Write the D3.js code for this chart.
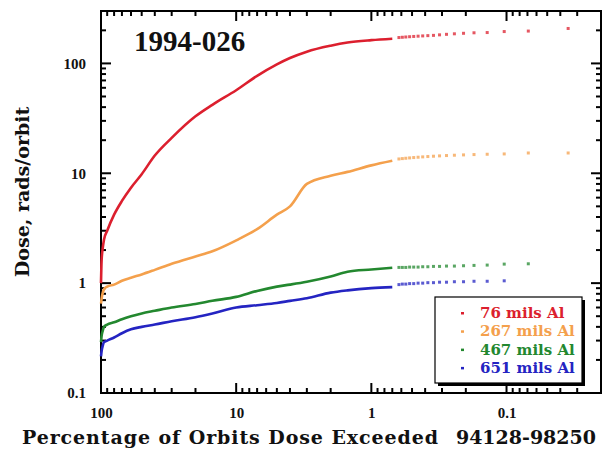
<!DOCTYPE html>
<html>
<head>
<meta charset="utf-8">
<script src="https://cdn.jsdelivr.net/npm/d3@7"></script>
<style>
body { margin: 0; background: #fff; }
</style>
</head>
<body>
<script>
// percentage of orbits (x) for the continuous part of each curve
var linePct = [100, 99, 97, 95, 90, 80, 70, 60, 50, 40, 30, 20, 15, 10, 7, 5, 4, 3, 2, 1.5, 1, 0.7];
var redDose = [1.0, 1.6, 2.1, 2.5, 3.0, 4.2, 5.6, 7.4, 9.8, 14.5, 21, 33, 42, 57, 77, 98, 112, 128, 145, 155, 163, 168];
var orangeDose = [0.65, 0.72, 0.82, 0.88, 0.93, 0.97, 1.05, 1.12, 1.2, 1.32, 1.5, 1.75, 1.95, 2.45, 3.1, 4.2, 5.0, 8.0, 9.5, 10.3, 11.8, 13.0];
var greenDose = [0.29, 0.33, 0.37, 0.40, 0.42, 0.44, 0.47, 0.5, 0.53, 0.56, 0.6, 0.645, 0.69, 0.75, 0.85, 0.93, 0.97, 1.03, 1.15, 1.27, 1.33, 1.38];
var blueDose = [0.215, 0.24, 0.27, 0.29, 0.30, 0.32, 0.35, 0.38, 0.40, 0.42, 0.45, 0.49, 0.53, 0.6, 0.63, 0.66, 0.69, 0.73, 0.82, 0.86, 0.9, 0.92];

// individual highest-dose orbits, drawn as dots
var tailPct = [0.035, 0.069, 0.104, 0.139, 0.174, 0.208, 0.243, 0.278, 0.313, 0.347, 0.382, 0.417, 0.451, 0.486, 0.521, 0.556, 0.590, 0.625];
var redTail = [208, 197, 195, 191, 190, 188, 186, 184, 182, 180, 179, 178, 177, 176, 175, 174, 173, 172];
var orangeTail = [15.3, 15.3, 15.0, 14.9, 14.8, 14.7, 14.6, 14.5, 14.4, 14.3, 14.2, 14.1, 14.0, 13.9, 13.8, 13.7, 13.6, 13.5];
var greenTail = [null, 1.50, 1.49, 1.46, 1.45, 1.44, 1.43, 1.43, 1.42, 1.42, 1.41, 1.41, 1.40, 1.40, 1.40, 1.39, 1.39, 1.39];
var blueTail = [null, null, 1.05, 1.04, 1.04, 1.03, 1.03, 1.02, 1.02, 1.01, 1.01, 1.00, 1.00, 0.99, 0.99, 0.98, 0.98, 0.97];

var seriesNames = ["76 mils Al", "267 mils Al", "467 mils Al", "651 mils Al"];
var colors = ["#dc1f2e", "#f4a04c", "#23882f", "#2424c2"];

var xTickValues = [100, 10, 1, 0.1];
var yTickValues = [0.1, 1, 10, 100];

var series = [
	{name: seriesNames[0], line: redDose, tail: redTail, color: colors[0]},
	{name: seriesNames[1], line: orangeDose, tail: orangeTail, color: colors[1]},
	{name: seriesNames[2], line: greenDose, tail: greenTail, color: colors[2]},
	{name: seriesNames[3], line: blueDose, tail: blueTail, color: colors[3]}
];

var svg = d3.select("body").append("svg").attr("width", 608).attr("height", 453);
var plot = {left: 101, right: 601, top: 11, bottom: 393};

var xScale = d3.scaleLog().domain([100, 0.02]).range([plot.left, plot.right]);
var yScale = d3.scaleLog().domain([0.1, 300]).range([plot.bottom, plot.top]);

var xMinor = xScale.ticks().filter(function(d){ return xTickValues.indexOf(d) < 0; });
var yMinor = yScale.ticks().filter(function(d){ return yTickValues.indexOf(d) < 0; });

// frame
svg.append("rect").attr("x", plot.left).attr("y", plot.top).attr("width", 500).attr("height", 382)
.attr("fill", "none").attr("stroke", "#000").attr("stroke-width", 2);

// inward ticks on all four sides
var xTicks = xTickValues.map(function(v){ return {v: v, len: 10}; })
.concat(xMinor.map(function(v){ return {v: v, len: 5}; }));
var yTicks = yTickValues.map(function(v){ return {v: v, len: 10}; })
.concat(yMinor.map(function(v){ return {v: v, len: 5}; }));

var tickG = svg.append("g").attr("stroke", "#000").attr("stroke-width", 2);
[plot.bottom, plot.top].forEach(function(y0){
	var dir = y0 == plot.bottom ? -1 : 1;
	tickG.selectAll(null).data(xTicks).enter().append("line")
	.attr("x1", function(d){ return xScale(d.v); })
	.attr("x2", function(d){ return xScale(d.v); })
	.attr("y1", y0)
	.attr("y2", function(d){ return y0 + dir * d.len; });
});
[plot.left, plot.right].forEach(function(x0){
	var dir = x0 == plot.left ? 1 : -1;
	tickG.selectAll(null).data(yTicks).enter().append("line")
	.attr("y1", function(d){ return yScale(d.v); })
	.attr("y2", function(d){ return yScale(d.v); })
	.attr("x1", x0)
	.attr("x2", function(d){ return x0 + dir * d.len; });
});

// curves
var linePath = d3.line()
.x(function(d){ return xScale(d[0]); })
.y(function(d){ return yScale(d[1]); })
.curve(d3.curveMonotoneX);

svg.selectAll("path.curve")
.data(series)
.enter()
.append("path")
.attr("class", "curve")
.attr("d", function(s){
	return linePath(linePct.map(function(p, i){ return [p, s.line[i]]; }));
})
.attr("fill", "none")
.attr("stroke", function(s){ return s.color; })
.attr("stroke-width", 2.6);

series.forEach(function(s){
	var pts = tailPct.map(function(p, i){ return [p, s.tail[i]]; })
	.filter(function(d){ return d[1] != null; });
	svg.selectAll(null)
	.data(pts)
	.enter()
	.append("rect")
	.attr("x", function(d){ return xScale(d[0]) - 1.5; })
	.attr("y", function(d){ return yScale(d[1]) - 1.5; })
	.attr("width", 3)
	.attr("height", 3)
	.attr("fill", s.color)
	.attr("opacity", 0.75);
});

// tick labels from d3 axes
function styleLabels(g) {
	g.select(".domain").remove();
	g.selectAll("line").remove();
	g.selectAll("text")
	.attr("font-family", "Liberation Serif, serif")
	.attr("font-weight", "bold")
	.attr("font-size", 15)
	.attr("fill", "#111");
}

svg.append("g")
.attr("transform", "translate(0," + plot.bottom + ")")
.call(d3.axisBottom(xScale).tickValues(xTickValues).tickSize(0).tickPadding(14)
	.tickFormat(function(d){ return d; }))
.call(styleLabels);

svg.append("g")
.attr("transform", "translate(" + plot.left + ",0)")
.call(d3.axisLeft(yScale).tickValues(yTickValues).tickSize(0).tickPadding(15)
	.tickFormat(function(d){ return d; }))
.call(styleLabels);

// title inside plot
svg.append("text")
.attr("x", 134)
.attr("y", 51)
.attr("font-family", "Liberation Serif, serif")
.attr("font-weight", "bold")
.attr("font-size", 29)
.attr("fill", "#111")
.text("1994-026");

// axis titles
svg.append("text")
.attr("transform", "translate(29,192) rotate(-90)")
.attr("text-anchor", "middle")
.attr("font-family", "DejaVu Serif, serif")
.attr("font-weight", "bold")
.attr("font-size", 19)
.attr("fill", "#111")
.text("Dose, rads/orbit");

svg.append("text")
.attr("x", 22)
.attr("y", 444)
.attr("textLength", 416)
.attr("lengthAdjust", "spacing")
.attr("font-family", "DejaVu Serif, serif")
.attr("font-weight", "bold")
.attr("font-size", 19)
.attr("fill", "#111")
.text("Percentage of Orbits Dose Exceeded");

svg.append("text")
.attr("x", 596)
.attr("y", 444)
.attr("text-anchor", "end")
.attr("font-family", "DejaVu Serif, serif")
.attr("font-weight", "bold")
.attr("font-size", 19)
.attr("fill", "#111")
.text("94128-98250");

// legend
var legend = {x: 435, y: 297, w: 147, h: 86};

svg.append("rect")
.attr("x", legend.x + 3)
.attr("y", legend.y + 3)
.attr("width", legend.w)
.attr("height", legend.h)
.attr("fill", "#000");

svg.append("rect")
.attr("x", legend.x)
.attr("y", legend.y)
.attr("width", legend.w)
.attr("height", legend.h)
.attr("fill", "#fff")
.attr("stroke", "#000")
.attr("stroke-width", 1.2);

var rows = svg.selectAll("g.legend-row")
.data(series)
.enter()
.append("g")
.attr("class", "legend-row")
.attr("transform", function(d, i){ return "translate(" + legend.x + "," + (legend.y + 16 + i * 18.3) + ")"; });

rows.append("rect")
.attr("x", 26)
.attr("y", -1)
.attr("width", 3)
.attr("height", 2.5)
.attr("fill", function(d){ return d.color; });

rows.append("text")
.attr("x", 45)
.attr("y", 5)
.attr("font-family", "DejaVu Serif, serif")
.attr("font-weight", "bold")
.attr("font-size", 15)
.attr("fill", function(d){ return d.color; })
.text(function(d){ return d.name; });
</script>
</body>
</html>
